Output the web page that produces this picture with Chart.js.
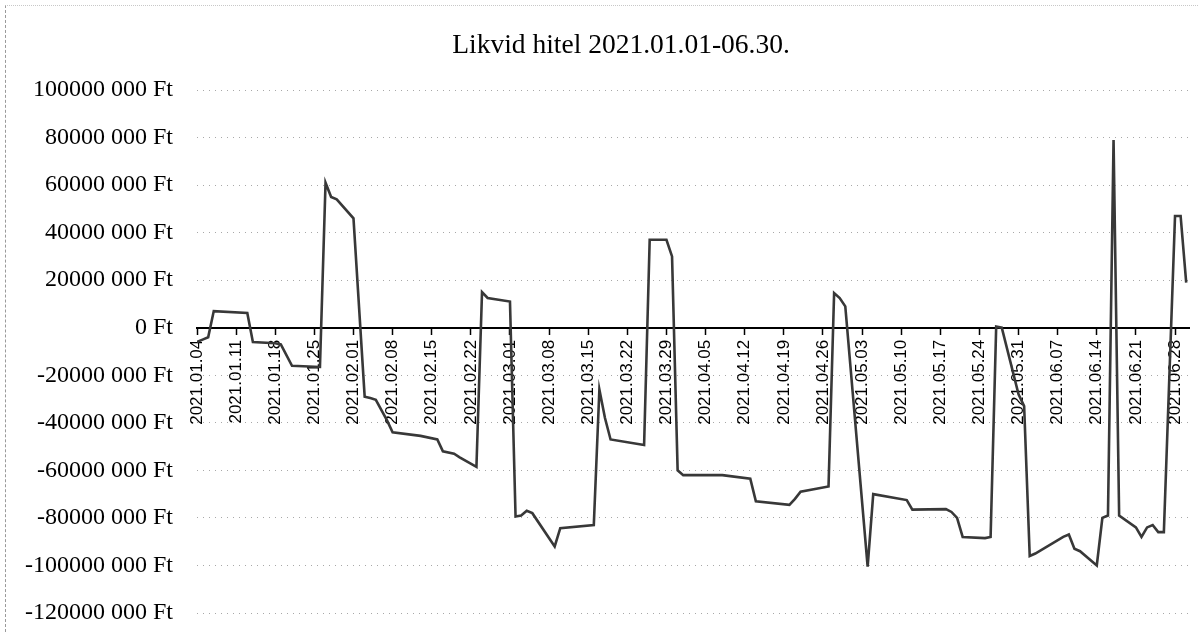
<!DOCTYPE html>
<html>
<head>
<meta charset="utf-8">
<script src="https://cdn.jsdelivr.net/npm/chart.js@4"></script>
<style>
  html, body { margin: 0; padding: 0; background: #fff; }
  #wrap { position: relative; width: 1198px; height: 632px; }
  #frame { position: absolute; left: 5px; top: 5px; right: 0; bottom: 0;
           border-left: 1px dashed #9a9a9a; border-top: 1px dotted #c8c8c8; pointer-events: none; }
  #title { position: absolute; left: 321px; width: 600px; top: 27px; text-align: center;
           font: 27.5px "Liberation Serif", serif; color: #000; line-height: 33px; white-space: nowrap; }
</style>
</head>
<body>
<div id="wrap">
  <canvas id="ctx" width="1198" height="632"></canvas>
  <div id="title"></div>
  <div id="frame"></div>
</div>
<script>
var title = "Likvid hitel 2021.01.01-06.30.";

// napok (2021) es likvid hitel egyenleg Ft-ban
var dates = [
  "2021.01.04", "2021.01.05", "2021.01.06", "2021.01.07", "2021.01.13", "2021.01.14",
  "2021.01.18", "2021.01.19", "2021.01.21", "2021.01.26", "2021.01.27", "2021.01.28",
  "2021.01.29", "2021.02.01", "2021.02.03", "2021.02.04", "2021.02.05", "2021.02.07",
  "2021.02.08", "2021.02.13", "2021.02.16", "2021.02.17", "2021.02.19", "2021.02.20",
  "2021.02.23", "2021.02.24", "2021.02.25", "2021.03.01", "2021.03.02", "2021.03.03",
  "2021.03.04", "2021.03.05", "2021.03.09", "2021.03.10", "2021.03.16", "2021.03.17",
  "2021.03.18", "2021.03.19", "2021.03.25", "2021.03.26", "2021.03.29", "2021.03.30",
  "2021.03.31", "2021.04.01", "2021.04.08", "2021.04.13", "2021.04.14", "2021.04.20",
  "2021.04.21", "2021.04.22", "2021.04.27", "2021.04.28", "2021.04.29", "2021.04.30",
  "2021.05.04", "2021.05.05", "2021.05.11", "2021.05.12", "2021.05.18", "2021.05.19",
  "2021.05.20", "2021.05.21", "2021.05.25", "2021.05.26", "2021.05.27", "2021.05.28",
  "2021.05.31", "2021.06.01", "2021.06.02", "2021.06.03", "2021.06.08", "2021.06.09",
  "2021.06.10", "2021.06.11", "2021.06.14", "2021.06.15", "2021.06.16", "2021.06.17",
  "2021.06.18", "2021.06.21", "2021.06.22", "2021.06.23", "2021.06.24", "2021.06.25",
  "2021.06.26", "2021.06.28", "2021.06.29", "2021.06.30"
];
var values = [
  -6000000, -5000000, -4000000, 7000000, 6200000, -6000000,
  -6500000, -7000000, -16000000, -16500000, 61000000, 55000000,
  54000000, 46000000, -29000000, -29600000, -30300000, -39000000,
  -44000000, -45500000, -47000000, -52000000, -53000000, -54500000,
  -58500000, 15000000, 12500000, 11000000, -79400000, -79000000,
  -77000000, -78000000, -92000000, -84300000, -83000000, -26000000,
  -38000000, -47000000, -49300000, 37000000, 37000000, 30000000,
  -60000000, -62000000, -62000000, -63500000, -73000000, -74500000,
  -72000000, -69000000, -66800000, 14600000, 12500000, 9000000,
  -100500000, -70000000, -72500000, -76500000, -76300000, -77500000,
  -80000000, -88000000, -88500000, -88000000, 500000, 0,
  -28000000, -33000000, -96000000, -95000000, -88000000, -87000000,
  -93000000, -94000000, -100000000, -80000000, -79000000, 79000000,
  -79000000, -84000000, -88000000, -84000000, -83000000, -86000000,
  -86000000, 47000000, 47000000, 19000000
];
var yTicks = [-120000000, -100000000, -80000000, -60000000, -40000000, -20000000,
              0, 20000000, 40000000, 60000000, 80000000, 100000000];

document.getElementById("title").textContent = title;

var day0 = Date.UTC(2021, 0, 4);
function dayIndex(s) {
  var p = s.split(".");
  return Math.round((Date.UTC(+p[0], +p[1] - 1, +p[2]) - day0) / 86400000);
}
function dayLabel(d) {
  var t = new Date(day0 + d * 86400000);
  var mm = ("0" + (t.getUTCMonth() + 1)).slice(-2);
  var dd = ("0" + t.getUTCDate()).slice(-2);
  return t.getUTCFullYear() + "." + mm + "." + dd;
}
function ftLabel(v) {
  if (v === 0) return "0 Ft";
  return (v / 1000) + " 000 Ft";
}

var points = dates.map(function (s, i) { return { x: dayIndex(s), y: values[i] }; });

var ctx = document.getElementById("ctx").getContext('2d');

var myChart = new Chart(ctx, {
    type: 'line',
    data: {
        datasets: [{
            data: points,
            borderColor: '#383838',
            borderWidth: 2.6,
            pointRadius: 0,
            tension: 0,
            fill: false
        }]
    },
    options: {
        responsive: false,
        animation: false,
        layout: { padding: { left: 9, right: 9, top: 90, bottom: 19 } },
        plugins: {
            legend: { display: false },
            tooltip: { enabled: false },
            title: { display: false }
        },
        scales: {
            x: {
                type: 'linear',
                min: 0,
                max: 177.5,
                position: { y: 0 },
                afterFit: function (scale) {
                    scale.height = 0;
                    scale.paddingLeft = 0;
                    scale.paddingRight = 0;
                    scale.paddingTop = 0;
                    scale.paddingBottom = 0;
                },
                grid: { drawOnChartArea: false, drawTicks: true, tickLength: 6, tickColor: '#000', tickWidth: 1.5 },
                border: { display: true, color: '#000', width: 2 },
                ticks: {
                    stepSize: 7,
                    includeBounds: false,
                    autoSkip: false,
                    minRotation: 90,
                    maxRotation: 90,
                    padding: 6,
                    color: '#000',
                    font: { family: 'Liberation Sans', size: 17 },
                    callback: function (v) { return dayLabel(v); }
                }
            },
            y: {
                min: yTicks[0],
                max: yTicks[yTicks.length - 1],
                afterFit: function (scale) {
                    scale.width = 188;
                    scale.paddingTop = 0;
                    scale.paddingBottom = 0;
                },
                afterBuildTicks: function (scale) {
                    scale.ticks = yTicks.map(function (v) { return { value: v }; });
                },
                grid: { color: '#a8a8a8', lineWidth: 1, drawTicks: false },
                border: { display: false, dash: [1, 5] },
                ticks: {
                    padding: 24,
                    color: '#000',
                    font: { family: 'Liberation Serif', size: 24 },
                    callback: function (v) { return ftLabel(v); }
                }
            }
        }
    }
});
</script>
</body>
</html>
